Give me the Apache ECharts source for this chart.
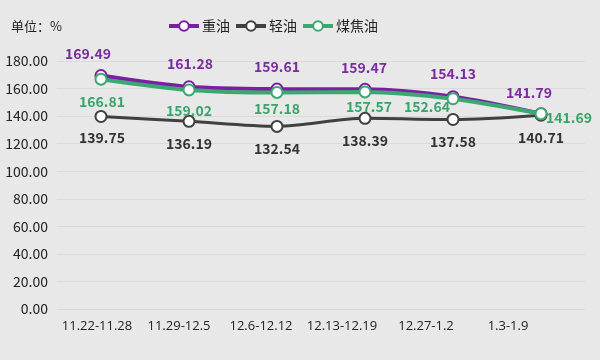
<!DOCTYPE html>
<html><head><meta charset="utf-8">
<script src="https://cdn.jsdelivr.net/npm/echarts@6/dist/echarts.min.js"></script>
<style>html,body{margin:0;padding:0;background:#e8e8e8}#c{width:600px;height:360px}</style>
</head><body><div id="c"></div>
<script>
const categories = ['11.22-11.28','11.29-12.5','12.6-12.12','12.13-12.19','12.27-1.2','1.3-1.9'];
const heavyOil = [169.49,161.28,159.61,159.47,154.13,141.79];
const lightOil = [139.75,136.19,132.54,138.39,137.58,140.71];
const coalTar = [166.81,159.02,157.18,157.57,152.64,141.69];
const seriesNames = ['重油','轻油','煤焦油'];

const heavyOffsets = [[-13,-22],[1,-23],[0,-22],[-1,-22],[0,-23],[-12,-21]];
const lightOffsets = [[1,21],[0,22],[0,22],[0,22],[0,22],[0,23]];
const tarOffsets = [[1,23],[0,21],[0,16],[4,15],[-26,8],[28,4]];
const catLabelShift = [4,10,16,23,27,33];

const FONT = '"Noto Sans CJK SC","Noto Sans",sans-serif';
function mk(name, vals, offs, color, lw, lblColor, z){
  return {
    name, type:'line', smooth:0.3, z,
    symbol:'emptyCircle', symbolSize:11,
    lineStyle:{color, width:lw},
    itemStyle:{color, borderColor:color, borderWidth:3},
    data: vals.map((v,i)=>({value:v, label:{offset:offs[i]}})),
    label:{show:true, position:'inside', color:lblColor, fontSize:14, fontWeight:'bold', fontFamily:FONT,
      formatter:p=>p.value.toFixed(2)}
  };
}
const chart = echarts.init(document.getElementById('c'));
chart.setOption({
  backgroundColor:'#e8e8e8',
  animation:false,
  title:{text:'单位：%', left:6, top:15, textStyle:{fontSize:13, fontWeight:'normal', color:'#222', fontFamily:FONT}},
  legend:{left:162, top:14, itemWidth:30, itemHeight:12, itemGap:4,
    lineStyle:{width:4}, itemStyle:{borderWidth:3},
    textStyle:{fontSize:14, color:'#222', fontFamily:FONT, padding:[0,0,0,-2]},
    data:seriesNames},
  grid:{left:57, right:15, top:61, bottom:51},
  xAxis:{type:'category', boundaryGap:true,
    data:categories.map((c,i)=>({value:c, textStyle:{padding:[0,2*catLabelShift[i],0,0]}})),
    axisLine:{show:false}, axisTick:{show:false},
    axisLabel:{color:'#222', fontSize:13, fontFamily:'"Open Sans",sans-serif', margin:11, interval:0}},
  yAxis:{type:'value', min:0, max:180, interval:20,
    axisLine:{show:false}, axisTick:{show:false},
    axisLabel:{color:'#222', fontSize:14, fontFamily:FONT, margin:9, formatter:v=>v.toFixed(2)},
    splitLine:{lineStyle:{color:'#dadada', width:1}}},
  series:[
    mk(seriesNames[0], heavyOil, heavyOffsets, '#7b1fa2', 4, '#7b2c9e', 3),
    mk(seriesNames[1], lightOil, lightOffsets, '#404040', 3, '#333333', 2),
    mk(seriesNames[2], coalTar, tarOffsets, '#3aa870', 4, '#3aa56b', 4)
  ]
});
</script></body></html>
